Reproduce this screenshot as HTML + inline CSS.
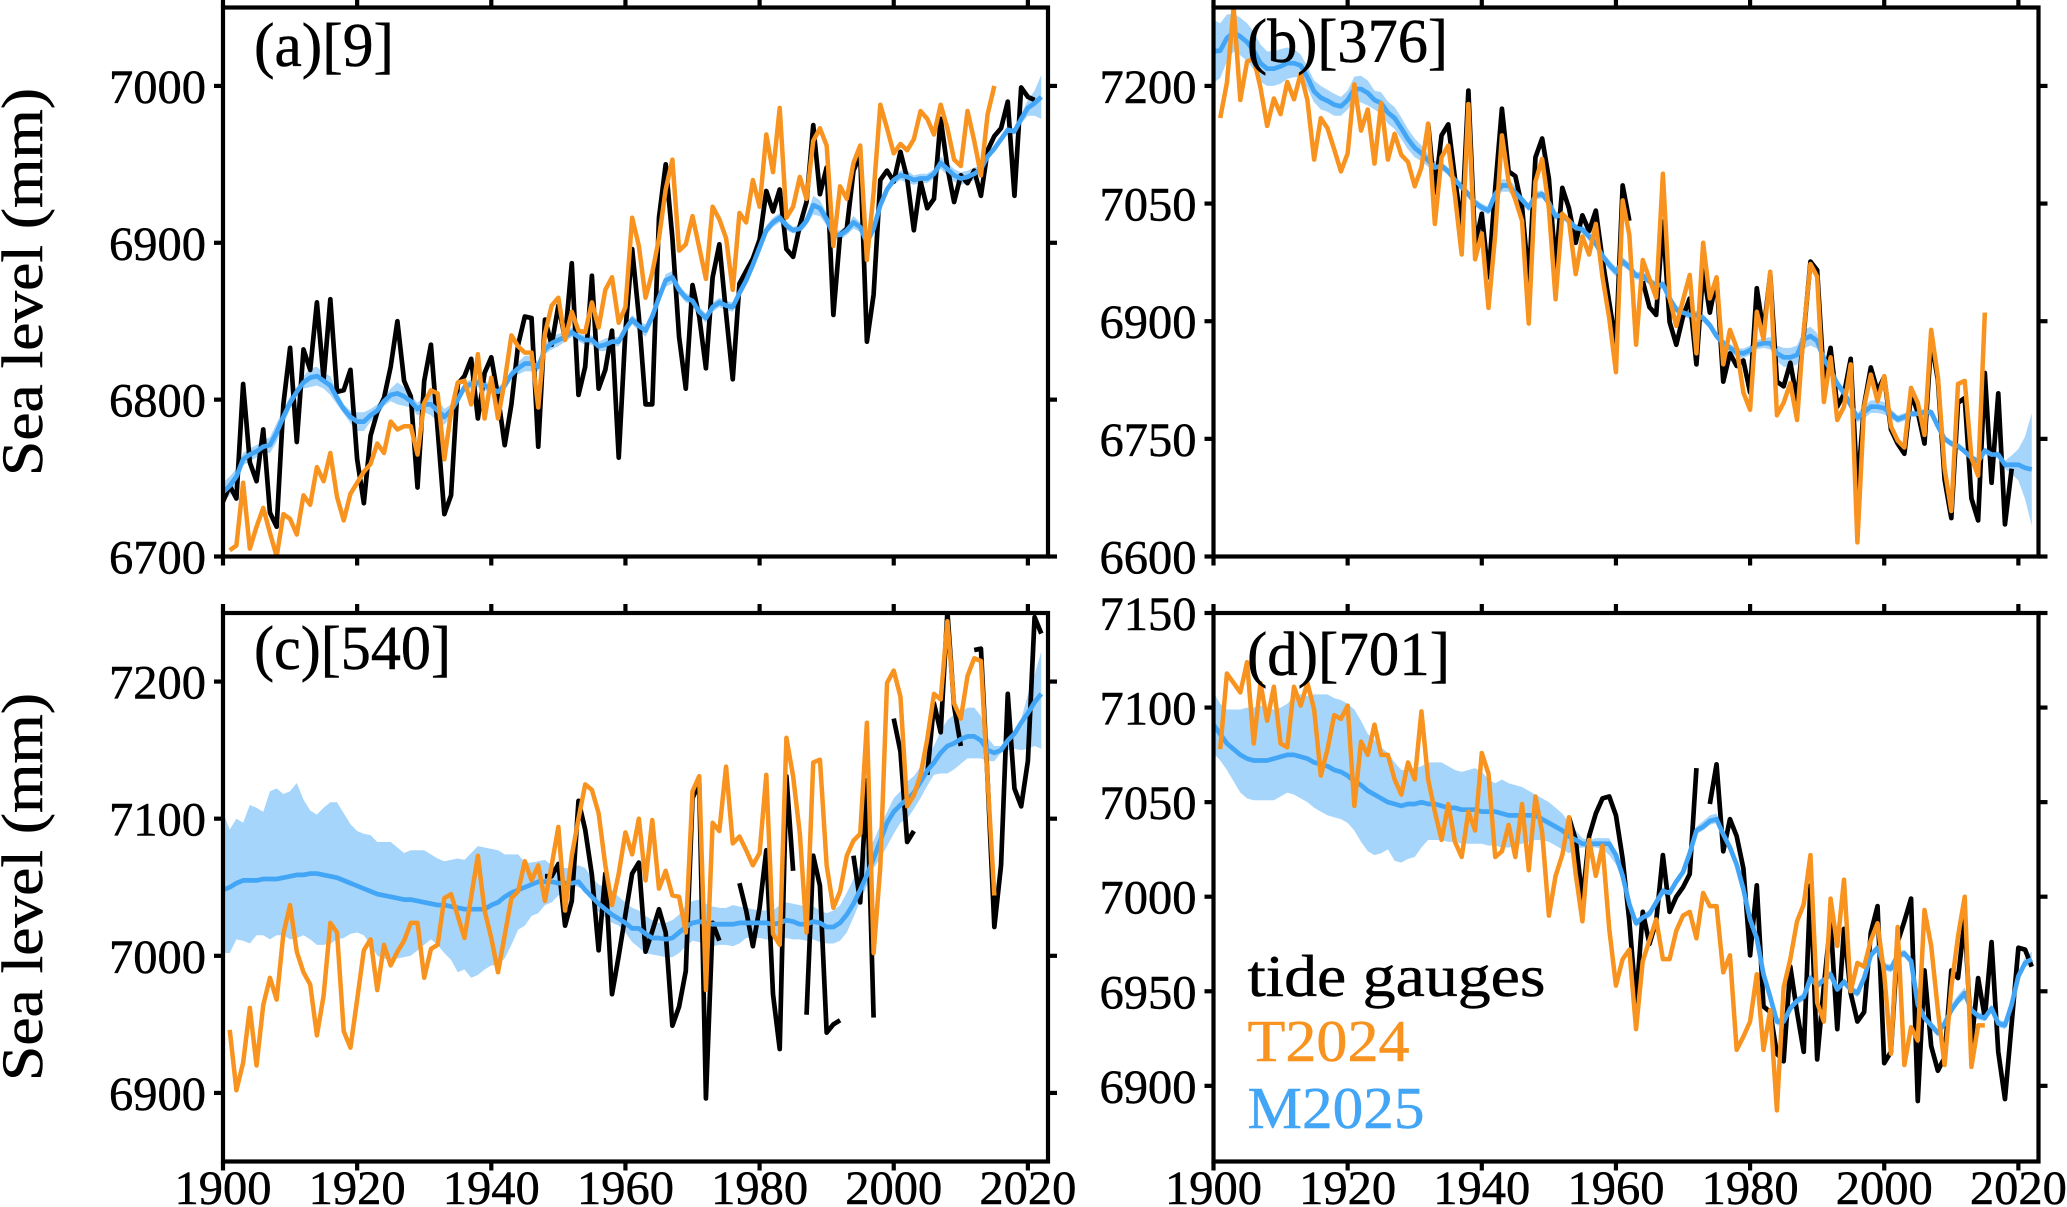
<!DOCTYPE html>
<html lang="en">
<head>
<meta charset="utf-8">
<title>Sea level panels</title>
<style>
html,body{margin:0;padding:0;background:#fff;width:2067px;height:1207px;overflow:hidden}
svg{display:block}
text{font-family:"Liberation Serif",serif;stroke-width:.5px;stroke:currentColor}
</style>
</head>
<body>
<svg id="figure" xmlns="http://www.w3.org/2000/svg" width="2067" height="1207" viewBox="0 0 2067 1207" color="#000">
  <rect x="0" y="0" width="2067" height="1207" fill="#fff"/>
  <g id="panels"></g>
  <text transform="translate(42,282) rotate(-90)" text-anchor="middle" font-size="58" textLength="388" lengthAdjust="spacingAndGlyphs">Sea level (mm)</text>
  <text transform="translate(42,887) rotate(-90)" text-anchor="middle" font-size="58" textLength="388" lengthAdjust="spacingAndGlyphs">Sea level (mm)</text>
  <text x="254" y="66" font-size="62" textLength="140" lengthAdjust="spacingAndGlyphs">(a)[9]</text>
  <text x="1247" y="62" font-size="62" textLength="201" lengthAdjust="spacingAndGlyphs">(b)[376]</text>
  <text x="254" y="669" font-size="62" textLength="197" lengthAdjust="spacingAndGlyphs">(c)[540]</text>
  <text x="1247" y="675" font-size="62" textLength="203" lengthAdjust="spacingAndGlyphs">(d)[701]</text>
  <text x="1247.5" y="996" font-size="59" textLength="298" lengthAdjust="spacingAndGlyphs" fill="#000" color="#000">tide gauges</text>
  <text x="1247.5" y="1061" font-size="59" textLength="162" lengthAdjust="spacingAndGlyphs" fill="#F7931E" color="#F7931E">T2024</text>
  <text x="1247.5" y="1128" font-size="59" textLength="177" lengthAdjust="spacingAndGlyphs" fill="#42A5F5" color="#42A5F5">M2025</text>
</svg>
<script>
const firstYear = 1900;
const xLimitEnd = 2023;
const xTickYears = [1900,1920,1940,1960,1980,2000,2020];

/* panel (a) */
const aTicks = [6700,6800,6900,7000];
const aGauges = [
6735,6745,6737,6810,6760,6748,6781,6728,6719,6797,
6833,6773,6832,6819,6862,6813,6864,6805,6806,6819,
6762,6734,6777,6792,6801,6821,6850,6812,6802,6744,
6812,6835,6781,6727,6739,6810,6815,6826,6788,6817,
6827,6802,6771,6797,6835,6853,6852,6770,6851,6835,
6860,6839,6887,6803,6821,6879,6807,6819,6844,6763,
6844,6896,6853,6797,6797,6916,6950,6903,6840,6807,
6873,6853,6820,6878,6899,6855,6813,6874,6882,6890,
6902,6933,6920,6934,6896,6891,6911,6926,6975,6931,
6948,6854,6905,6909,6946,6956,6837,6867,6940,6946,
6939,6958,6941,6908,6939,6922,6928,6979,6948,6926,
6943,6938,6946,6930,6959,6968,6973,6990,6930,6999,
6993,6991,null];
const aT2024 = [
null,6704,6707,6747,6705,6719,6731,6715,6700,6727,
6724,6714,6739,6733,6757,6748,6766,6738,6723,6740,
6747,6754,6759,6772,6766,6786,6781,6783,6783,6765,
6798,6806,6804,6762,6792,6811,6812,6797,6829,6788,
6814,6788,6812,6841,6834,6830,6830,6795,6842,6860,
6865,6838,6856,6844,6843,6862,6846,6870,6878,6849,
6859,6916,6898,6865,6881,6903,6934,6953,6895,6899,
6917,6897,6877,6923,6915,6903,6870,6919,6913,6940,
6923,6969,6945,6986,6916,6923,6942,6928,6965,6973,
6962,6898,6936,6928,6951,6962,6889,6932,6988,6973,
6957,6963,6959,6966,6984,6979,6969,6988,6973,6953,
6949,6984,6965,6943,6982,7000,null,null,null,null,
null,null,null];
const aM2025 = [
6741,6745,6751,6762,6765,6767,6770,6771,6779,6789,
6798,6805,6811,6814,6815,6812,6809,6801,6794,6789,
6786,6786,6790,6793,6799,6803,6804,6802,6799,6794,
6797,6797,6793,6789,6793,6800,6808,6810,6811,6809,
6807,6805,6809,6816,6820,6823,6823,6821,6832,6836,
6838,6840,6843,6840,6838,6838,6834,6835,6837,6837,
6845,6851,6847,6844,6853,6865,6876,6878,6870,6865,
6863,6856,6852,6859,6862,6860,6859,6868,6876,6886,
6897,6908,6913,6916,6911,6908,6909,6914,6924,6922,
6915,6905,6905,6908,6913,6910,6900,6909,6924,6934,
6940,6943,6942,6940,6941,6941,6944,6951,6947,6943,
6941,6942,6944,6947,6955,6960,6966,6972,6971,6979,
6986,6989,6993];
const aSpread = [
6,6,5,4,4,4,4,5,6,5,
4,3,4,6,6,5,6,4,3,4,
6,6,4,4,3,4,7,6,4,4,
5,7,7,5,4,3,3,3,3,3,
3,3,3,3,4,5,5,3,3,4,
4,3,3,3,3,3,3,4,3,3,
3,3,3,4,4,3,4,4,3,3,
3,3,3,3,3,3,3,2,2,2,
2,3,3,3,3,2,3,3,6,5,
4,3,3,3,4,3,2,3,3,2,
3,3,4,3,3,3,3,4,4,4,
4,4,4,2,2,2,2,2,2,3,
5,8,14];

/* panel (b) */
const bTicks = [6600,6750,6900,7050,7200];
const bGauges = [
null,null,null,null,null,null,null,null,null,null,
null,null,null,null,null,null,null,null,null,null,
null,null,null,null,null,null,null,null,null,null,
null,null,7152,7064,7137,7151,7082,7019,7194,6997,
7037,6956,7069,7171,7091,7085,7046,6951,7109,7133,
7082,6969,7070,7044,7000,7035,7015,7041,6978,6924,
6870,7073,7028,null,6951,6918,6908,7027,6899,6870,
6906,6929,6845,6965,6911,6954,6823,6859,6843,6850,
6809,6942,6886,6960,6823,6817,6847,6800,6884,6976,
6965,6825,6866,6791,6807,6852,6685,6793,6841,6811,
6829,6762,6744,6731,6807,6784,6744,6875,6825,6698,
6649,6796,6802,6674,6646,6834,6694,6808,6641,6712,
null,null,null];
const bT2024 = [
null,7159,7204,7300,7182,7231,7235,7198,7149,7184,
7164,7205,7183,7216,7182,7106,7159,7146,7119,7091,
7114,7202,7143,7170,7101,7178,7106,7139,7112,7103,
7072,7096,7152,7024,7109,7124,7060,6985,7177,6979,
7012,6917,7010,7137,7078,7055,7028,6897,7078,7107,
7044,6928,7037,7028,6960,7008,6985,7024,6956,6904,
6835,7054,7010,6870,6978,6954,6930,7088,6929,6894,
6927,6959,6859,7000,6929,6956,6845,6889,6866,6809,
6787,6912,6877,6963,6780,6796,6821,6774,6888,6973,
6957,6797,6854,6774,6791,6845,6618,6791,6832,6798,
6830,6766,6748,6739,6815,6796,6755,6889,6829,6712,
6658,6820,6824,6726,6703,6911,null,null,null,null,
null,null,null];
const bM2025 = [
7244,7245,7261,7268,7263,7256,7245,7229,7222,7222,
7225,7229,7229,7226,7211,7193,7185,7181,7176,7174,
7182,7196,7196,7191,7182,7178,7166,7159,7146,7132,
7121,7114,7105,7096,7098,7091,7080,7071,7062,7051,
7045,7041,7062,7073,7073,7064,7055,7045,7060,7062,
7051,7034,7035,7028,7019,7017,7008,6999,6983,6972,
6963,6976,6969,6958,6958,6951,6945,6947,6929,6915,
6911,6908,6908,6904,6895,6881,6872,6866,6860,6859,
6863,6870,6872,6872,6859,6854,6854,6857,6877,6881,
6875,6852,6838,6820,6809,6793,6777,6784,6791,6791,
6789,6782,6775,6778,6782,6782,6784,6784,6766,6750,
6744,6741,6734,6726,6721,6735,6730,6730,6717,6717,
6717,6713,6711];
const bSpread = [
40,35,30,24,24,24,24,24,22,22,
22,20,18,14,14,14,15,14,14,12,
12,16,17,16,12,14,14,14,14,13,
12,10,8,8,5,5,5,5,5,5,
5,5,8,8,8,8,5,5,5,5,
5,5,5,5,5,5,6,6,6,6,
6,6,5,5,5,5,5,5,5,5,
5,5,5,5,5,5,5,5,6,6,
6,6,6,8,10,12,12,12,12,12,
10,8,6,6,6,6,6,8,8,8,
8,6,5,5,4,4,4,4,4,4,
4,4,4,4,4,4,4,4,5,12,
20,40,72];

/* panel (c) */
const cTicks = [6900,7000,7100,7200];
const cGauges = [
null,null,null,null,null,null,null,null,null,null,
null,null,null,null,null,null,null,null,null,null,
null,null,null,null,null,null,null,null,null,null,
null,null,null,null,null,null,null,null,null,null,
null,null,null,null,null,null,null,null,7058,7058,
7067,7022,7040,7113,7092,7059,7004,7060,6972,7000,
7030,7060,7068,7003,7018,7034,7017,6949,6963,6989,
7115,7126,6896,7024,7011,null,null,7053,7033,7007,
7035,7077,6972,6932,7131,7062,null,6957,7073,7051,
6944,6950,6953,null,7073,7039,7128,6955,null,null,
7173,7149,7083,7091,null,7132,7184,7163,7251,7182,
7153,null,7223,7224,7128,7021,7066,7191,7122,7109,
7142,7247,7235];
const cT2024 = [
null,6946,6902,6922,6962,6920,6964,6984,6968,7016,
7037,7003,6988,6979,6942,6971,7024,7017,6945,6933,
6968,7004,7012,6975,7008,6993,7003,7011,7024,7024,
6984,7005,7008,7042,7045,7029,7013,7043,7073,7033,
7013,6988,7015,7042,7047,7069,7055,7066,7040,7066,
7094,7033,7073,7100,7125,7121,7104,7066,7037,7060,
7090,7074,7100,7055,7099,7049,7062,7044,7043,7017,
7120,7131,6975,7097,7091,7138,7082,7087,7077,7066,
7075,7132,7016,7008,7159,7131,7089,7017,7141,7143,
7066,7035,7047,7073,7084,7089,7170,7002,7065,7199,
7208,7189,7109,7117,7132,7158,7191,7187,7244,7184,
7173,7204,7217,7215,7128,7044,null,null,null,null,
null,null,null];
const cM2025 = [
7048,7050,7053,7055,7055,7055,7056,7056,7056,7057,
7058,7059,7059,7060,7060,7059,7058,7057,7055,7053,
7051,7049,7047,7045,7044,7043,7042,7041,7041,7040,
7039,7038,7037,7037,7036,7035,7034,7034,7034,7034,
7037,7039,7043,7046,7048,7050,7052,7054,7054,7054,
7053,7053,7053,7054,7048,7043,7038,7034,7030,7027,
7024,7020,7020,7016,7013,7013,7012,7013,7017,7021,
7024,7025,7024,7023,7023,7023,7023,7024,7024,7024,
7024,7024,7023,7024,7026,7025,7023,7023,7025,7024,
7021,7021,7024,7030,7038,7048,7059,7071,7084,7097,
7105,7110,7114,7119,7127,7135,7141,7148,7153,7155,
7158,7160,7160,7157,7150,7148,7150,7157,7162,7170,
7177,7185,7191];
const cUpper = [
7105,7092,7100,7097,7110,7108,7105,7120,7122,7118,
7120,7126,7114,7106,7103,7108,7112,7112,7104,7096,
7091,7089,7088,7083,7083,7083,7079,7075,7077,7077,
7077,7074,7071,7069,7070,7071,7070,7075,7080,7079,
7078,7077,7074,7074,7074,7068,7068,7069,7070,7066,
7064,7064,7064,7066,7064,7057,7052,7050,7048,7043,
7039,7035,7033,7029,7026,7024,7024,7026,7030,7037,
7040,7041,7038,7036,7035,7035,7037,7036,7035,7034,
7033,7033,7033,7037,7039,7038,7037,7036,7036,7033,
7031,7033,7037,7046,7056,7066,7077,7084,7095,7105,
7115,7120,7127,7131,7138,7146,7153,7164,7172,7176,
7178,7181,7181,7175,7159,7153,7153,7158,7163,7173,
7190,7205,7222];
const cLower = [
7002,7002,7012,7011,7009,7015,7015,7012,7015,7015,
7012,7013,7015,7012,7008,7008,7009,7012,7013,7016,
7017,7015,7008,7000,6998,6997,6998,6999,7000,7004,
7008,7012,7008,7002,6997,6988,6990,6984,6986,6990,
6993,6993,6998,7008,7019,7022,7029,7031,7037,7039,
7044,7048,7052,7050,7048,7040,7032,7028,7024,7022,
7017,7010,7006,7002,7001,7000,6999,6999,7002,7007,
7011,7010,7008,7007,7008,7008,7007,7009,7013,7013,
7013,7012,7012,7012,7013,7012,7012,7011,7012,7010,
7009,7009,7011,7017,7028,7040,7051,7064,7071,7080,
7089,7097,7100,7107,7115,7124,7132,7133,7133,7136,
7140,7144,7144,7144,7142,7142,7148,7150,7151,7150,
7151,7153,7151];

/* panel (d) */
const dTicks = [6900,6950,7000,7050,7100,7150];
const dGauges = [
null,null,null,null,null,null,null,null,null,null,
null,null,null,null,null,null,null,null,null,null,
null,null,null,null,null,null,null,null,null,null,
null,null,null,null,null,null,null,null,null,null,
null,null,null,null,null,null,null,null,null,null,
null,null,null,7042,7030,6998,7032,7044,7052,7053,
7043,7020,6987,6944,6992,6975,6987,7022,6992,7000,
7005,7012,7068,null,7049,7070,7024,7041,7032,7015,
6969,7006,6942,6939,6917,6913,6963,6939,6918,7006,
6914,6953,6987,6930,6983,6949,6934,6939,6981,6995,
6912,6918,6976,6987,6999,6892,6961,6921,6908,6915,
6961,6957,6988,6922,6957,6936,6976,6918,6893,6933,
6973,6972,6963];
const dT2024 = [
null,7078,7118,7113,7108,7124,7081,7113,7093,7111,
7081,7079,7111,7101,7113,7099,7064,7078,7096,7094,
7101,7048,7082,7075,7091,7075,7075,7062,7054,7071,
7062,7098,7062,7045,7030,7049,7029,7021,7045,7035,
7076,7065,7021,7024,7038,7021,7049,7014,7053,7034,
6990,7011,7022,7042,7012,6987,7030,7011,7027,6983,
6953,6967,6972,6930,6966,6977,6988,6967,6967,6982,
6990,6992,6978,7002,6995,6995,6960,6969,6919,6926,
6934,6959,6919,6940,6887,6952,6967,6987,6996,7022,
6944,6934,6999,6974,7009,6950,6965,6963,6977,6986,
6959,6917,6984,6911,6931,6924,6993,6974,6940,6911,
6952,6979,7000,6910,6932,6932,null,null,null,null,
null,null,null];
const dM2025 = [
7091,7086,7081,7078,7075,7073,7072,7072,7072,7073,
7074,7075,7075,7074,7073,7071,7070,7069,7067,7066,
7064,7061,7059,7056,7054,7052,7050,7049,7048,7049,
7049,7050,7049,7049,7048,7047,7047,7046,7046,7046,
7045,7045,7045,7044,7043,7043,7043,7043,7043,7041,
7039,7037,7035,7032,7030,7028,7028,7028,7028,7028,
7022,7011,6996,6986,6989,6991,6997,7003,7002,7008,
7013,7023,7035,7037,7040,7041,7033,7026,7017,7004,
6988,6978,6959,6947,6934,6934,6941,6945,6947,6957,
6953,6956,6959,6951,6955,6951,6949,6957,6969,6973,
6963,6962,6969,6970,6966,6943,6936,6932,6928,6933,
6940,6945,6949,6940,6937,6936,6941,6933,6932,6943,
6958,6965,6967];
const dUpper = [
7108,7102,7099,7099,7099,7100,7100,7101,7100,7099,
7100,7102,7106,7107,7106,7107,7107,7107,7105,7104,
7102,7099,7093,7086,7083,7079,7076,7071,7067,7067,
7068,7069,7071,7071,7071,7069,7067,7066,7067,7068,
7066,7062,7060,7062,7060,7059,7058,7056,7054,7052,
7050,7047,7044,7039,7035,7031,7030,7031,7031,7031,
7024,7012,6998,6988,6991,6993,6999,7005,7004,7010,
7015,7025,7037,7040,7043,7044,7035,7028,7019,7006,
6990,6980,6961,6949,6936,6936,6943,6947,6949,6959,
6955,6958,6961,6953,6957,6953,6951,6959,6971,6975,
6965,6964,6971,6972,6968,6945,6938,6934,6930,6935,
6943,6948,6952,6942,6939,6938,6943,6935,6934,6945,
6960,6968,6971];
const dLower = [
7076,7072,7067,7061,7055,7052,7051,7051,7051,7051,
7053,7055,7054,7052,7050,7047,7045,7043,7042,7041,
7039,7035,7029,7024,7022,7023,7025,7019,7018,7020,
7021,7026,7030,7030,7030,7029,7029,7028,7028,7028,
7028,7027,7027,7026,7026,7027,7028,7029,7030,7030,
7029,7027,7025,7023,7025,7026,7026,7026,7025,7022,
7017,7009,6994,6984,6987,6989,6995,7001,7000,7006,
7011,7021,7033,7035,7038,7039,7031,7024,7015,7002,
6986,6976,6957,6945,6932,6932,6939,6943,6945,6955,
6951,6954,6957,6949,6953,6949,6947,6955,6967,6971,
6961,6960,6967,6968,6964,6941,6934,6930,6926,6931,
6938,6943,6946,6938,6935,6934,6939,6931,6930,6941,
6956,6963,6964];

const NS = 'http://www.w3.org/2000/svg';
const panelsRoot = document.getElementById('panels');
const SPINE = 4.2;
const TICK = 9;

function makeEl(tag, parent, attrs) {
  const node = document.createElementNS(NS, tag);
  for (const key in attrs) node.setAttribute(key, attrs[key]);
  parent.appendChild(node);
  return node;
}

function linePath(values, sx, sy) {
  let d = '';
  let pen = false;
  values.forEach(function (v, i) {
    if (v === null) { pen = false; return; }
    d += (pen ? 'L' : 'M') + sx(firstYear + i).toFixed(2) + ' ' + sy(v).toFixed(2);
    pen = true;
  });
  return d;
}

function bandPath(upper, lower, sx, sy) {
  let d = '';
  upper.forEach(function (v, i) {
    d += (i ? 'L' : 'M') + sx(firstYear + i).toFixed(2) + ' ' + sy(v).toFixed(2);
  });
  for (let i = lower.length - 1; i >= 0; i--) {
    d += 'L' + sx(firstYear + i).toFixed(2) + ' ' + sy(lower[i]).toFixed(2);
  }
  return d + 'Z';
}

function drawPanel(p) {
  const sx = function (yr) { return p.left + (yr - firstYear) / (xLimitEnd - firstYear) * (p.right - p.left); };
  const sy = function (v) { return p.bottom - (v - p.yMin) / (p.yMax - p.yMin) * (p.bottom - p.top); };

  const group = makeEl('g', panelsRoot, {});
  
  

  const clip = makeEl('clipPath', group, { id: 'clip-' + p.id });
  makeEl('rect', clip, { x: p.left, y: p.top, width: p.right - p.left, height: p.bottom - p.top });

  const plot = makeEl('g', group, { 'clip-path': 'url(#clip-' + p.id + ')' });
  
  

  const band = makeEl('path', plot, { d: bandPath(p.upper, p.lower, sx, sy), fill: '#A6D5FB', stroke: 'none' });
  
  

  const gaugeLine = makeEl('path', plot, { d: linePath(p.gauges, sx, sy), fill: 'none', stroke: '#000', 'stroke-width': 4.7, 'stroke-linejoin': 'round' });
  
  

  const meanLine = makeEl('path', plot, { d: linePath(p.mean, sx, sy), fill: 'none', stroke: '#42A5F5', 'stroke-width': 4.7, 'stroke-linejoin': 'round' });
  
  

  const tLine = makeEl('path', plot, { d: linePath(p.t2024, sx, sy), fill: 'none', stroke: '#F7931E', 'stroke-width': 4.5, 'stroke-linejoin': 'round' });
  
  

  const frame = makeEl('rect', group, { x: p.left, y: p.top, width: p.right - p.left, height: p.bottom - p.top, fill: 'none', stroke: '#000', 'stroke-width': SPINE });
  
  

  xTickYears.forEach(function (yr) {
    const x = sx(yr);
    const bottomTick = makeEl('line', group, { x1: x, x2: x, y1: p.bottom, y2: p.bottom + TICK, stroke: '#000', 'stroke-width': SPINE });
    
    
    const topTick = makeEl('line', group, { x1: x, x2: x, y1: p.top, y2: p.top - TICK, stroke: '#000', 'stroke-width': SPINE });
    
    
    if (p.showXLabels) {
      const label = makeEl('text', group, { x: x, y: 1204, 'text-anchor': 'middle', 'font-size': 48, textLength: 97, lengthAdjust: 'spacingAndGlyphs' });
      
      
      label.textContent = String(yr);
    }
  });

  p.ticks.forEach(function (v) {
    const y = sy(v);
    const leftTick = makeEl('line', group, { x1: p.left, x2: p.left - TICK, y1: y, y2: y, stroke: '#000', 'stroke-width': SPINE });
    
    
    const rightTick = makeEl('line', group, { x1: p.right, x2: p.right + TICK, y1: y, y2: y, stroke: '#000', 'stroke-width': SPINE });
    
    
    const label = makeEl('text', group, { x: p.left - 114, y: y + 17, 'font-size': 48, textLength: 97, lengthAdjust: 'spacingAndGlyphs' });
    
    
    label.textContent = String(v);
  });
}

function addSpread(mean, spread, sign) {
  return mean.map(function (v, i) { return v + sign * spread[i]; });
}

drawPanel({ id: 'a', left: 223, right: 1048, top: 7.5, bottom: 556.5, yMin: 6700, yMax: 7050, ticks: aTicks, showXLabels: false,
  gauges: aGauges, t2024: aT2024, mean: aM2025, upper: addSpread(aM2025, aSpread, 1), lower: addSpread(aM2025, aSpread, -1) });
drawPanel({ id: 'b', left: 1213.5, right: 2038.5, top: 7.5, bottom: 556.5, yMin: 6600, yMax: 7300, ticks: bTicks, showXLabels: false,
  gauges: bGauges, t2024: bT2024, mean: bM2025, upper: addSpread(bM2025, bSpread, 1), lower: addSpread(bM2025, bSpread, -1) });
drawPanel({ id: 'c', left: 223, right: 1048, top: 613, bottom: 1161.5, yMin: 6850, yMax: 7250, ticks: cTicks, showXLabels: true,
  gauges: cGauges, t2024: cT2024, mean: cM2025, upper: cUpper, lower: cLower });
drawPanel({ id: 'd', left: 1213.5, right: 2038.5, top: 613, bottom: 1161.5, yMin: 6860, yMax: 7150, ticks: dTicks, showXLabels: true,
  gauges: dGauges, t2024: dT2024, mean: dM2025, upper: dUpper, lower: dLower });
</script>
</body>
</html>
